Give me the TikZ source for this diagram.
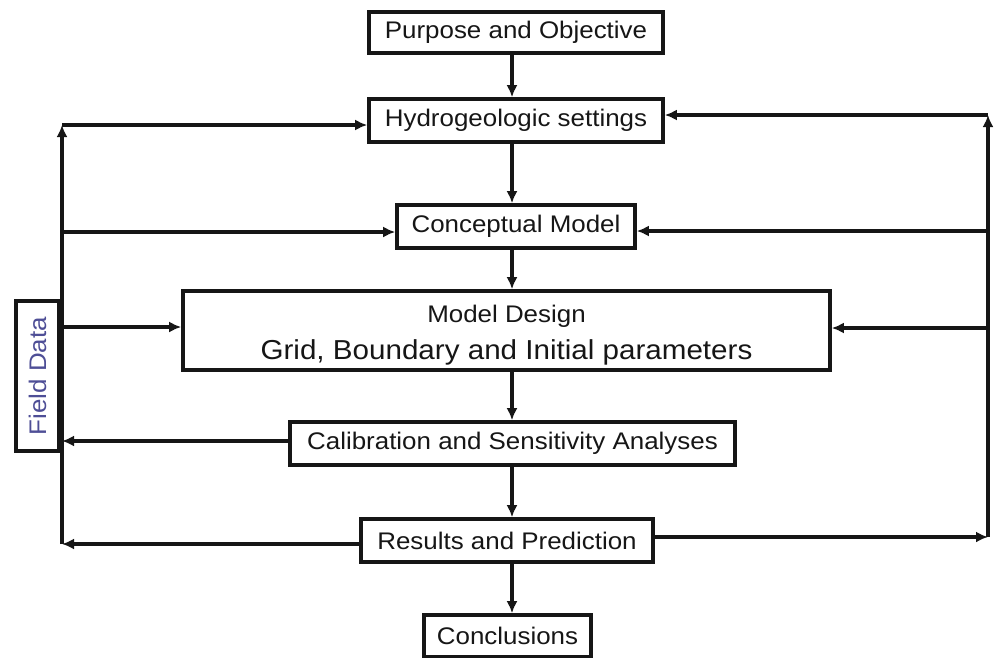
\documentclass[tikz,border=0pt]{standalone}
\usepackage{fontspec}
\setmainfont[FakeStretch=1.08]{Liberation Sans}
\usetikzlibrary{arrows.meta}
\definecolor{ink}{RGB}{22,22,22}
\definecolor{fdcol}{RGB}{78,78,150}
\begin{document}
\begin{tikzpicture}[x=1pt,y=-1pt,
  box/.style={draw=ink,line width=3.6pt,fill=white,inner sep=0pt,text=ink,
    font=\fontsize{24}{28}\selectfont},
  conn/.style={draw=ink,line width=3.3pt},
  arr/.style={conn,-{Latex[length=12pt,width=11pt]}}]
\useasboundingbox (0,0) rectangle (994,657);
\fill[white] (0,0) rectangle (994,657);

% main boxes
\node[box,minimum width=294pt,minimum height=41pt] (purp) at (516,32.5) {Purpose and Objective};
\node[box,minimum width=294pt,minimum height=43pt] (hydro) at (516,120.5) {Hydrogeologic settings};
\node[box,minimum width=238pt,minimum height=43pt] (concept) at (516,226.5) {Conceptual Model};
\node[box,minimum width=647pt,minimum height=79pt,align=center] (design) at (506.5,330.5)
  {{\fontsize{24}{24}\selectfont\rule{0pt}{27pt}Model Design}\\[9pt]{\fontsize{27.4}{30}\selectfont Grid, Boundary and Initial parameters}};
\node[box,minimum width=445pt,minimum height=43pt] (calib) at (512.5,443.5) {Calibration and Sensitivity Analyses};
\node[box,minimum width=292pt,minimum height=43pt] (results) at (507,540.5) {Results and Prediction};
\node[box,minimum width=167pt,minimum height=42pt] (concl) at (507.5,636) {Conclusions};
\node[box,text=fdcol,rotate=90,minimum width=150pt,minimum height=43pt] (field) at (37.5,376) {Field Data};

% central chain
\coordinate (ax) at (512,0);
\draw[arr] (purp.south -| ax) -- (hydro.north -| ax);
\draw[arr] (hydro.south -| ax) -- (concept.north -| ax);
\draw[arr] (concept.south -| ax) -- (design.north -| ax);
\draw[arr] (design.south -| ax) -- (calib.north -| ax);
\draw[arr] (calib.south -| ax) -- (results.north -| ax);
\draw[arr] (results.south -| ax) -- (concl.north -| ax);

% left bus (Field Data)
\coordinate (LT) at (62,125);
\coordinate (LC) at (62,232);
\coordinate (LD) at (62,327);
\coordinate (LK) at (62,441);
\coordinate (LB) at (62,544);
\draw[arr] (LB) -- (LT);
\draw[arr] (LT) -- (LT -| hydro.west);
\draw[arr] (LC) -- (LC -| concept.west);
\draw[arr] (LD) -- (LD -| design.west);
\draw[arr] (LK -| calib.west) -- (LK);
\draw[arr] (LB -| results.west) -- (LB);

% right bus
\coordinate (RT) at (988,115);
\coordinate (RC) at (988,231);
\coordinate (RD) at (988,328);
\coordinate (RB) at (988,537);
\draw[arr] (RB) -- (RT);
\draw[arr] (RT) -- (RT -| hydro.east);
\draw[arr] (RC) -- (RC -| concept.east);
\draw[arr] (RD) -- (RD -| design.east);
\draw[arr] (RB -| results.east) -- (RB);
\end{tikzpicture}
\end{document}
